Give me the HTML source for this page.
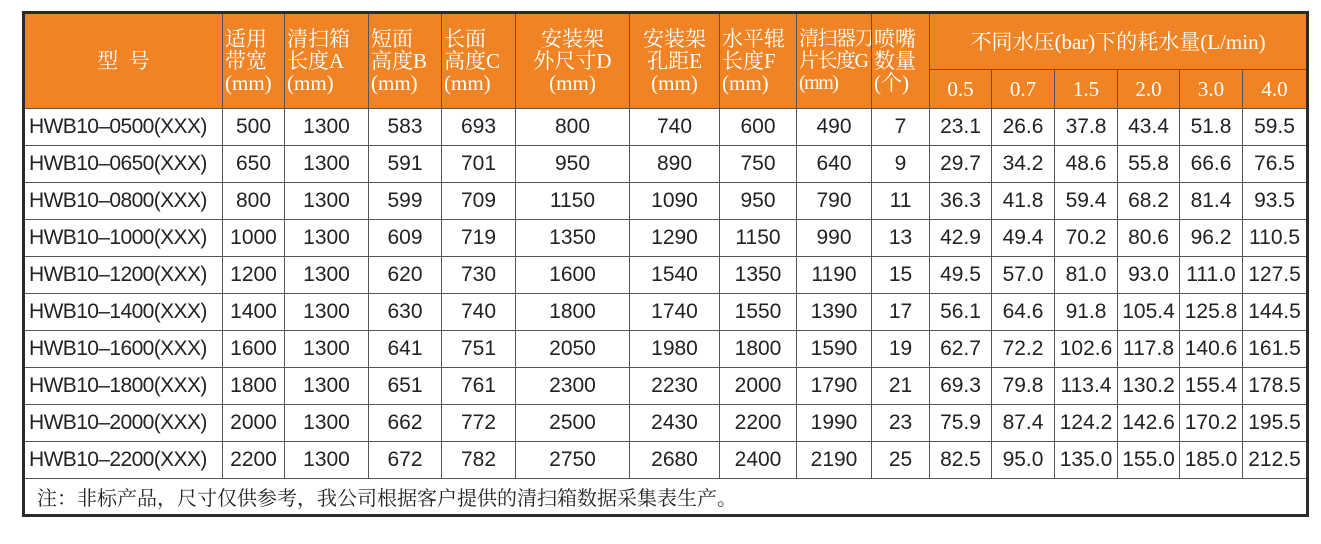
<!DOCTYPE html>
<html><head><meta charset="utf-8"><style>
body{margin:0;width:1321px;height:544px;background:#fff;position:relative;overflow:hidden}
table{position:absolute;left:22px;top:11px;width:1284px;border-collapse:collapse;table-layout:fixed;border:3px solid #2a2a2a}
td{border:1.5px solid #555;padding:0;text-align:center;font-family:"Liberation Sans","Noto Sans CJK SC",sans-serif;font-size:21px;color:#222;white-space:nowrap;overflow:hidden}
tr.d{height:37px}
td.h{background:#F08424;color:#fff;font-family:"Liberation Serif","Noto Serif CJK SC",serif;font-size:21px;line-height:22px;text-align:left;padding-left:2px;vertical-align:middle}
td.c{text-align:center;padding-left:0}
td.m{text-align:left;padding-left:4px;letter-spacing:-0.6px}
td.n{text-align:left;padding-left:12px;font-family:"Liberation Serif","Noto Serif CJK SC",serif;font-size:20px}
</style></head><body>
<table>
<colgroup><col style="width:199px"><col style="width:62px"><col style="width:84px"><col style="width:73px"><col style="width:74px"><col style="width:114px"><col style="width:90px"><col style="width:77px"><col style="width:75px"><col style="width:58px"><col style="width:62px"><col style="width:63px"><col style="width:63px"><col style="width:62px"><col style="width:63px"><col style="width:65px"></colgroup>
<tr style="height:57px">
<td class="h c" rowspan="2" style="font-size:21px">型&nbsp;&nbsp;号</td>
<td class="h" rowspan="2">适用<br>带宽<br>(mm)</td>
<td class="h" rowspan="2">清扫箱<br>长度A<br>(mm)</td>
<td class="h" rowspan="2">短面<br>高度B<br>(mm)</td>
<td class="h" rowspan="2">长面<br>高度C<br>(mm)</td>
<td class="h c" rowspan="2">安装架<br>外尺寸D<br>(mm)</td>
<td class="h c" rowspan="2">安装架<br>孔距E<br>(mm)</td>
<td class="h" rowspan="2">水平辊<br>长度F<br>(mm)</td>
<td class="h" rowspan="2" style="letter-spacing:-1.5px;font-size:20px">清扫器刀<br>片长度G<br>(mm)</td>
<td class="h" rowspan="2">喷嘴<br>数量<br>(个)</td>
<td class="h c" colspan="6">不同水压(bar)下的耗水量(L/min)</td>
</tr>
<tr style="height:39px">
<td class="h c">0.5</td><td class="h c">0.7</td><td class="h c">1.5</td><td class="h c">2.0</td><td class="h c">3.0</td><td class="h c">4.0</td>
</tr>
<tr class="d"><td class="m">HWB10–0500(XXX)</td><td>500</td><td>1300</td><td>583</td><td>693</td><td>800</td><td>740</td><td>600</td><td>490</td><td>7</td><td>23.1</td><td>26.6</td><td>37.8</td><td>43.4</td><td>51.8</td><td>59.5</td></tr>
<tr class="d"><td class="m">HWB10–0650(XXX)</td><td>650</td><td>1300</td><td>591</td><td>701</td><td>950</td><td>890</td><td>750</td><td>640</td><td>9</td><td>29.7</td><td>34.2</td><td>48.6</td><td>55.8</td><td>66.6</td><td>76.5</td></tr>
<tr class="d"><td class="m">HWB10–0800(XXX)</td><td>800</td><td>1300</td><td>599</td><td>709</td><td>1150</td><td>1090</td><td>950</td><td>790</td><td>11</td><td>36.3</td><td>41.8</td><td>59.4</td><td>68.2</td><td>81.4</td><td>93.5</td></tr>
<tr class="d"><td class="m">HWB10–1000(XXX)</td><td>1000</td><td>1300</td><td>609</td><td>719</td><td>1350</td><td>1290</td><td>1150</td><td>990</td><td>13</td><td>42.9</td><td>49.4</td><td>70.2</td><td>80.6</td><td>96.2</td><td>110.5</td></tr>
<tr class="d"><td class="m">HWB10–1200(XXX)</td><td>1200</td><td>1300</td><td>620</td><td>730</td><td>1600</td><td>1540</td><td>1350</td><td>1190</td><td>15</td><td>49.5</td><td>57.0</td><td>81.0</td><td>93.0</td><td>111.0</td><td>127.5</td></tr>
<tr class="d"><td class="m">HWB10–1400(XXX)</td><td>1400</td><td>1300</td><td>630</td><td>740</td><td>1800</td><td>1740</td><td>1550</td><td>1390</td><td>17</td><td>56.1</td><td>64.6</td><td>91.8</td><td>105.4</td><td>125.8</td><td>144.5</td></tr>
<tr class="d"><td class="m">HWB10–1600(XXX)</td><td>1600</td><td>1300</td><td>641</td><td>751</td><td>2050</td><td>1980</td><td>1800</td><td>1590</td><td>19</td><td>62.7</td><td>72.2</td><td>102.6</td><td>117.8</td><td>140.6</td><td>161.5</td></tr>
<tr class="d"><td class="m">HWB10–1800(XXX)</td><td>1800</td><td>1300</td><td>651</td><td>761</td><td>2300</td><td>2230</td><td>2000</td><td>1790</td><td>21</td><td>69.3</td><td>79.8</td><td>113.4</td><td>130.2</td><td>155.4</td><td>178.5</td></tr>
<tr class="d"><td class="m">HWB10–2000(XXX)</td><td>2000</td><td>1300</td><td>662</td><td>772</td><td>2500</td><td>2430</td><td>2200</td><td>1990</td><td>23</td><td>75.9</td><td>87.4</td><td>124.2</td><td>142.6</td><td>170.2</td><td>195.5</td></tr>
<tr class="d"><td class="m">HWB10–2200(XXX)</td><td>2200</td><td>1300</td><td>672</td><td>782</td><td>2750</td><td>2680</td><td>2400</td><td>2190</td><td>25</td><td>82.5</td><td>95.0</td><td>135.0</td><td>155.0</td><td>185.0</td><td>212.5</td></tr>
<tr style="height:37px"><td class="n" colspan="16">注：非标产品，尺寸仅供参考，我公司根据客户提供的清扫箱数据采集表生产。</td></tr>
</table>
</body></html>
